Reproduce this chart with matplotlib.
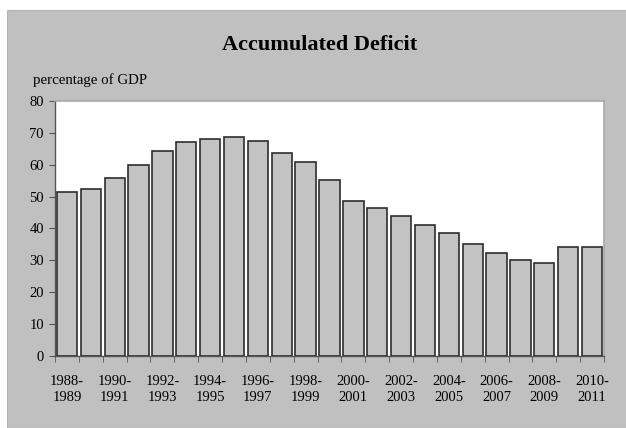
import numpy as np
import matplotlib.pyplot as plt
from matplotlib.patches import Rectangle

periods = ['1988-\n1989', '1989-\n1990', '1990-\n1991', '1991-\n1992', '1992-\n1993', '1993-\n1994',
           '1994-\n1995', '1995-\n1996', '1996-\n1997', '1997-\n1998', '1998-\n1999', '1999-\n2000',
           '2000-\n2001', '2001-\n2002', '2002-\n2003', '2003-\n2004', '2004-\n2005', '2005-\n2006',
           '2006-\n2007', '2007-\n2008', '2008-\n2009', '2009-\n2010', '2010-\n2011']
deficit = [51.5, 52.4, 55.8, 60.0, 64.3, 67.2, 68.2, 68.6, 67.4, 63.7, 60.8, 55.2,
           48.6, 46.5, 44.0, 41.1, 38.5, 35.2, 32.3, 30.1, 29.1, 34.2, 34.0]
yticks = [0, 10, 20, 30, 40, 50, 60, 70, 80]

plt.rcParams['font.family'] = ['Liberation Serif', 'DejaVu Serif']

W, H = 626, 428
fig = plt.figure(figsize=(W/100, H/100), dpi=100)
fig.patch.set_facecolor('white')
# gray panel behind everything (runs off the right and bottom edges)
fig.patches.append(Rectangle((7/W, 0), (W-7)/W + 0.01, (H-10)/H, transform=fig.transFigure,
                             facecolor='#c0c0c0', edgecolor='#b4b4b4', lw=0.8, zorder=-5))

ax = fig.add_axes([55/W, 1-355.7/H, (604-55)/W, (355.7-101)/H])
ax.set_zorder(2)
ax.set_facecolor('white')

x = np.arange(len(deficit))
ax.bar(x, deficit, width=0.85, color='#c3c3c3', edgecolor='#2e2e2e', linewidth=1.2, zorder=3)

ax.set_xlim(-0.5, len(deficit)-0.5)
ax.set_ylim(0, 80)
ax.set_yticks(yticks)
ax.set_yticklabels([str(v) for v in yticks], fontsize=10.5)
ax.set_xticks(x[::2])
ax.set_xticklabels(periods[::2], fontsize=10.5, linespacing=1.3)
ax.set_xticks(np.arange(len(deficit)+1)-0.5, minor=True)
ax.tick_params(axis='x', which='major', length=0, pad=14)
ax.tick_params(axis='x', which='minor', length=4, color='#555555', direction='out')
ax.tick_params(axis='y', length=4, color='#555555', pad=4)

for s in ['top', 'right']:
    ax.spines[s].set_color('#a8a8a8')
    ax.spines[s].set_linewidth(1.2)
for s in ['left', 'bottom']:
    ax.spines[s].set_color('#555555')
    ax.spines[s].set_linewidth(1.0)

fig.text(320/W, 1-45/H, 'Accumulated Deficit', ha='center', va='center',
         fontsize=16, fontweight='bold')
fig.text(33/W, 1-80/H, 'percentage of GDP', ha='left', va='center', fontsize=10.7)

fig.savefig('out.png', dpi=100)
